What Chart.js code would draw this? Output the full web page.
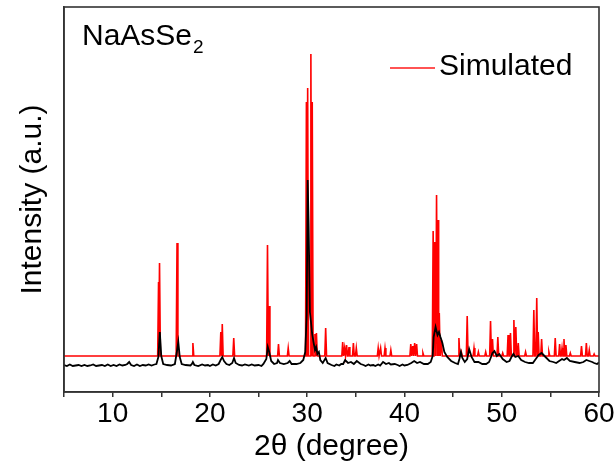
<!DOCTYPE html>
<html>
<head>
<meta charset="utf-8">
<script src="https://cdn.jsdelivr.net/npm/chart.js@4"></script>
<style>
  html, body { margin: 0; padding: 0; background: #fff; }
  canvas { display: block; }
</style>
</head>
<body>
<canvas id="xrd" width="615" height="471"></canvas>
<script>
// simulated pattern: baseline level plus peak positions (2θ) and heights
const simBaseline = 36;
const simPeakPos = [
  14.72, 14.82, 16.62, 18.25, 21.12, 21.27, 22.45, 25.92, 26.08, 27.05, 28.05,
  29.92, 30.05, 30.38, 30.52, 30.8, 30.95, 31.9,
  33.65, 33.85, 34.05, 34.3, 34.75, 35.05, 37.3, 37.55, 38.0, 38.6,
  40.65, 40.85, 41.05, 41.25, 41.9,
  42.95, 43.12, 43.3, 43.45, 43.58, 43.8,
  45.6, 45.85, 46.45, 47.15, 47.6, 48.35, 48.85, 49.05, 49.6, 50.1,
  50.65, 50.9, 51.25, 51.45, 51.7, 52.45, 53.3, 53.6, 53.75, 54.1, 54.85,
  55.5, 55.95, 56.2, 56.4, 56.6, 57.05, 58.2, 58.7, 59.0, 59.5
];
const simPeakHeight = [
  110, 129, 149, 49, 60, 68, 54, 147, 86, 48, 44,
  290, 304, 338, 290, 58, 59, 64,
  50, 44, 47, 45, 49, 44, 44, 44, 44, 42,
  48, 46, 49, 48, 39,
  161, 150, 197, 172, 79, 52,
  54, 40, 76, 44, 40, 40, 71, 53, 55, 39,
  57, 59, 72, 65, 49, 40, 82, 94, 60, 53, 40,
  54, 48, 44, 53, 47, 39, 46, 49, 42, 38
];

// measured pattern
const expTheta = [
  5.0, 5.3, 5.6, 5.9, 6.2, 6.5, 6.8, 7.1, 7.4, 7.7, 8.0, 8.3, 8.6, 8.9, 9.2, 9.5,
  9.8, 10.1, 10.4, 10.7, 11.0, 11.3, 11.5, 11.7, 11.9, 12.2, 12.5, 12.8, 13.1, 13.4,
  13.7, 14.0, 14.3, 14.5, 14.7, 14.85, 15.0, 15.2, 15.6, 16.0, 16.4, 16.6, 16.75,
  16.9, 17.1, 17.5, 18.0, 18.15, 18.25, 18.4, 18.8, 19.2, 19.5, 19.8, 20.0, 20.3, 20.6,
  20.9, 21.1, 21.27, 21.45, 21.7, 22.0, 22.3, 22.48, 22.65, 23.0, 23.3, 23.6, 24.0,
  24.3, 24.6, 25.0, 25.3, 25.5, 25.8, 25.95, 26.1, 26.3, 26.6, 26.9, 27.0, 27.2, 27.6,
  28.0, 28.2, 28.4, 28.9, 29.3, 29.6, 29.8, 29.95, 30.05, 30.15, 30.28, 30.38, 30.5,
  30.65, 30.8, 30.92, 31.05, 31.2, 31.35, 31.6, 31.9, 32.1, 32.5, 32.8, 33.0, 33.3,
  33.5, 33.7, 33.9, 34.2, 34.5, 34.8, 35.1, 35.5, 35.8, 36.0, 36.3, 36.5, 36.8, 37.0,
  37.3, 37.5, 37.8, 38.1, 38.4, 38.6, 39.0, 39.3, 39.5, 39.8, 40.0, 40.3, 40.5, 40.7,
  41.0, 41.3, 41.6, 42.0, 42.4, 42.7, 42.9, 43.0, 43.2, 43.4, 43.55, 43.7, 43.9, 44.1,
  44.4, 44.8, 45.2, 45.5, 45.65, 45.8, 45.95, 46.2, 46.45, 46.65, 46.9, 47.2, 47.6,
  48.0, 48.4, 48.7, 48.9, 49.05, 49.25, 49.5, 49.75, 50.1, 50.5, 50.8, 51.0, 51.2,
  51.4, 51.7, 52.0, 52.4, 52.8, 53.2, 53.5, 53.8, 54.1, 54.5, 54.9, 55.3, 55.6, 55.9,
  56.2, 56.4, 56.7, 57.0, 57.5, 58.0, 58.4, 58.7, 59.0, 59.3, 59.5, 59.8, 60.0
];
const expIntensity = [
  27, 26, 27.5, 26, 26.5, 27, 26, 27, 26, 26.5, 27.5, 26, 26.5, 27, 26, 27.5,
  26, 27, 26, 27.5, 26.5, 27, 28, 30, 27, 26, 27.5, 26, 27, 26.5,
  27.5, 26.5, 27.5, 28, 35, 60, 36, 28, 27, 26.5, 28, 40, 50,
  35, 28, 27, 26.5, 28, 30, 27, 26, 27.5, 26.5, 27, 26, 27.5, 26.5,
  28, 32, 35, 31, 28, 27, 29, 34, 29, 27, 26.5, 27.5, 26.5,
  27.5, 26.5, 27, 26, 28, 33, 45, 40, 31, 28, 29, 32, 29, 28,
  29, 31, 28, 28, 29, 32, 40, 77, 212, 167, 80, 71, 59,
  50, 42, 45, 38, 40, 32, 29, 34, 29, 27, 26, 27.5, 26.5, 28,
  28, 32, 29, 30, 28, 31, 28, 27, 26, 27.5, 26.5, 27, 26, 27.5,
  26.5, 30, 28, 29, 27.5, 28, 27, 26, 27.5, 26.5, 27, 28, 29, 31,
  29, 30, 28, 28, 30, 36, 55, 65, 57, 60, 55, 49, 40, 35,
  31, 29, 28, 33, 40, 34, 30, 33, 43, 35, 30, 30, 28,
  28, 30, 35, 39, 41, 36, 38, 33, 30, 31, 35, 38, 35,
  36, 32, 30, 29, 29, 33, 37, 39, 35, 31, 30, 29, 31, 33,
  32, 34, 31, 30, 29, 30, 32, 31, 30, 29, 28, 29.5, 28.5
];

const xTicks = [10, 20, 30, 40, 50, 60];

const FONT = "'Liberation Sans', Arial, sans-serif";
Chart.defaults.font.family = FONT;
Chart.defaults.color = '#000';

// stick profile for the simulated peaks
const STICK = 0.09;
const simPoints = [{x: 5, y: simBaseline}];
simPeakPos.forEach((p, i) => {
  simPoints.push({x: p - STICK, y: simBaseline});
  simPoints.push({x: p, y: simPeakHeight[i]});
  simPoints.push({x: p + STICK, y: simBaseline});
});
simPoints.push({x: 60, y: simBaseline});

const expPoints = expTheta.map((t, i) => ({x: t, y: expIntensity[i]}));

// frame, sample name and the legend entry
const decorations = {
  id: 'decorations',
  afterDraw(chart) {
    const {ctx, chartArea: a} = chart;
    ctx.save();
    ctx.strokeStyle = '#333';
    ctx.lineWidth = 1.6;
    ctx.strokeRect(a.left, a.top, a.right - a.left, a.bottom - a.top);

    ctx.fillStyle = '#000';
    ctx.textBaseline = 'alphabetic';
    ctx.textAlign = 'left';
    ctx.font = '30px ' + FONT;
    const nx = a.left + 18, ny = a.top + 38;
    ctx.fillText('NaAsSe', nx, ny);
    const w = ctx.measureText('NaAsSe').width;
    ctx.font = '19px ' + FONT;
    ctx.fillText('2', nx + w + 1, ny + 8);

    ctx.strokeStyle = '#ff1a1a';
    ctx.lineWidth = 1.5;
    ctx.beginPath();
    ctx.moveTo(a.right - 209, a.top + 61);
    ctx.lineTo(a.right - 164, a.top + 61);
    ctx.stroke();
    ctx.font = '30px ' + FONT;
    ctx.fillText('Simulated', a.right - 160, a.top + 68);
    ctx.restore();
  }
};

new Chart(document.getElementById('xrd'), {
  type: 'line',
  data: {
    datasets: [
      {
        label: 'Experimental',
        data: expPoints,
        borderColor: '#000',
        borderWidth: 1.8,
        pointRadius: 0,
        tension: 0
      },
      {
        label: 'Simulated',
        data: simPoints,
        borderColor: '#ff0000',
        borderWidth: 1.6,
        pointRadius: 0,
        tension: 0
      }
    ]
  },
  options: {
    responsive: false,
    animation: false,
    layout: { padding: { top: 7, right: 16, left: 0, bottom: 0 } },
    plugins: {
      legend: { display: false },
      tooltip: { enabled: false }
    },
    scales: {
      x: {
        type: 'linear',
        min: 5,
        max: 60,
        afterFit: scale => { scale.height = 79; },
        ticks: {
          stepSize: 5,
          autoSkip: false,
          maxRotation: 0,
          padding: 0,
          font: { size: 28 },
          callback: v => xTicks.includes(v) ? String(v) : ''
        },
        grid: { drawOnChartArea: false, tickLength: 5, color: '#333', lineWidth: 1.5 },
        border: { display: true, color: '#333', width: 1.6 },
        title: {
          display: true,
          text: '2θ (degree)',
          font: { size: 30 },
          padding: { top: 0, bottom: 6 }
        }
      },
      y: {
        min: 0,
        max: 385,
        afterFit: scale => { scale.width = 64; },
        ticks: { display: false },
        grid: { display: false },
        border: { display: true, color: '#333', width: 1.6 },
        title: {
          display: true,
          text: 'Intensity (a.u.)',
          font: { size: 30 },
          padding: { top: 15, bottom: 0 }
        }
      }
    }
  },
  plugins: [decorations]
});
</script>
</body>
</html>
